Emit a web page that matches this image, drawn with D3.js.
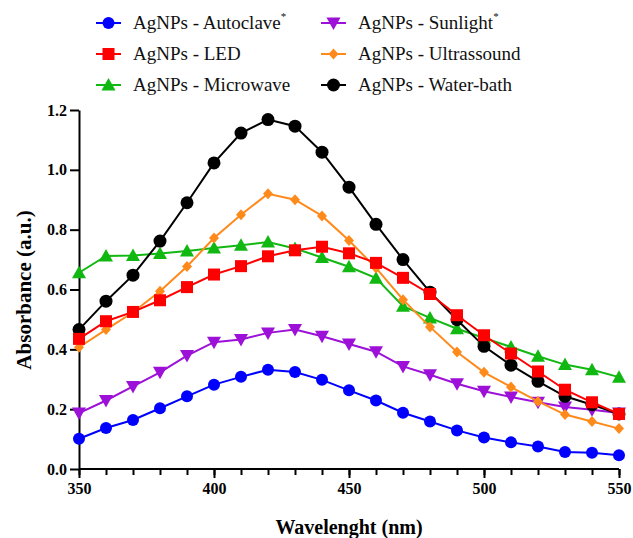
<!DOCTYPE html>
<html>
<head>
<meta charset="utf-8">
<script src="https://cdn.jsdelivr.net/npm/d3@7"></script>
<style>
  body { margin: 0; background: #fff; }
  svg { display: block; }
</style>
</head>
<body>
<div id="chart"></div>
<script>
// Wavelength (nm) and absorbance per synthesis method
var wavelengths = [350, 360, 370, 380, 390, 400, 410, 420, 430, 440, 450,
                   460, 470, 480, 490, 500, 510, 520, 530, 540, 550];

var autoclave = [0.101, 0.137, 0.164, 0.203, 0.243, 0.282, 0.308, 0.332, 0.324, 0.298, 0.263,
                 0.229, 0.188, 0.159, 0.129, 0.105, 0.089, 0.075, 0.057, 0.054, 0.046];
var sunlight = [0.187, 0.229, 0.276, 0.323, 0.379, 0.424, 0.433, 0.455, 0.466, 0.444, 0.418,
                0.392, 0.343, 0.315, 0.285, 0.260, 0.241, 0.223, 0.207, 0.198, 0.187];
var led = [0.435, 0.494, 0.525, 0.564, 0.608, 0.650, 0.678, 0.711, 0.731, 0.743, 0.721,
           0.689, 0.639, 0.585, 0.514, 0.447, 0.386, 0.326, 0.265, 0.223, 0.184];
var ultrassound = [0.407, 0.466, 0.524, 0.594, 0.677, 0.772, 0.850, 0.920, 0.900, 0.846, 0.764,
                   0.672, 0.566, 0.475, 0.391, 0.323, 0.274, 0.226, 0.182, 0.159, 0.135];
var microwave = [0.656, 0.712, 0.714, 0.720, 0.729, 0.739, 0.748, 0.759, 0.737, 0.707, 0.676,
                 0.638, 0.544, 0.505, 0.469, 0.438, 0.408, 0.377, 0.349, 0.332, 0.307];
var waterBath = [0.466, 0.561, 0.648, 0.762, 0.890, 1.023, 1.123, 1.168, 1.146, 1.059, 0.942,
                 0.818, 0.700, 0.591, 0.499, 0.410, 0.347, 0.293, 0.243, 0.215, 0.184];

var yTicks = [0, 0.2, 0.4, 0.6, 0.8, 1.0, 1.2];
var xMajorTicks = [350, 400, 450, 500, 550];

var series = [
  {name: "AgNPs - Autoclave", star: true, values: autoclave, color: "#0000ff", symbol: "circle"},
  {name: "AgNPs - LED", star: false, values: led, color: "#ff0000", symbol: "square"},
  {name: "AgNPs - Microwave", star: false, values: microwave, color: "#12b812", symbol: "triangle"},
  {name: "AgNPs - Sunlight", star: true, values: sunlight, color: "#9c10d8", symbol: "down"},
  {name: "AgNPs - Ultrassound", star: false, values: ultrassound, color: "#ff8a1c", symbol: "diamond"},
  {name: "AgNPs - Water-bath", star: false, values: waterBath, color: "#000000", symbol: "circleBig"}
];

// draw order (last on top)
var drawOrder = [0, 3, 2, 4, 5, 1];

var serif = "Liberation Serif, Tinos, Times New Roman, DejaVu Serif, serif";

var width = 633, height = 538;
var svg = d3.select("#chart").append("svg")
    .attr("width", width)
    .attr("height", height)
    .attr("font-family", serif);

var x = d3.scaleLinear().domain([350, 550]).range([79, 619]);
var y = d3.scaleLinear().domain([0, 1.2]).range([469, 110]);

function marker(sel, s) {
  var c = s.color;
  if (s.symbol === "circle" || s.symbol === "circleBig") {
    sel.append("circle").attr("r", s.symbol === "circle" ? 6 : 6.5).attr("fill", c);
  } else if (s.symbol === "square") {
    sel.append("rect").attr("x", -6).attr("y", -6).attr("width", 12).attr("height", 12).attr("fill", c);
  } else if (s.symbol === "triangle") {
    sel.append("path").attr("d", "M0,-7L7,5.5L-7,5.5Z").attr("fill", c);
  } else if (s.symbol === "down") {
    sel.append("path").attr("d", "M0,7L7,-5.5L-7,-5.5Z").attr("fill", c);
  } else if (s.symbol === "diamond") {
    sel.append("path").attr("d", "M0,-5.5L5,0L0,5.5L-5,0Z").attr("fill", c);
  }
}

// axes
var yAxis = d3.axisLeft(y).tickValues(yTicks).tickFormat(d3.format(".1f"))
    .tickSize(9).tickSizeOuter(0).tickPadding(3);
var gy = svg.append("g").attr("transform", "translate(79,0)").call(yAxis);

var xMinor = svg.append("g").attr("transform", "translate(0,469)")
    .call(d3.axisBottom(x).tickValues(wavelengths).tickFormat("").tickSize(6).tickSizeOuter(0));
var gx = svg.append("g").attr("transform", "translate(0,469)")
    .call(d3.axisBottom(x).tickValues(xMajorTicks).tickFormat(d3.format("d"))
      .tickSize(9).tickSizeOuter(0).tickPadding(5));

[gy, gx, xMinor].forEach(function(g) {
  g.attr("font-family", serif).attr("font-size", 16).attr("font-weight", "bold");
  g.selectAll("path, line").attr("stroke", "#000").attr("stroke-width", 2);
  g.selectAll("text").attr("fill", "#000");
});
gx.select("path.domain").remove();
xMinor.select("path.domain").attr("d", "M79,0H619");

// lines + markers
var line = d3.line()
    .x(function(d, i) { return x(wavelengths[i]); })
    .y(function(d) { return y(d); });

drawOrder.forEach(function(idx) {
  var s = series[idx];
  svg.append("path")
    .datum(s.values)
    .attr("d", line)
    .attr("fill", "none")
    .attr("stroke", s.color)
    .attr("stroke-width", 2);
  svg.append("g").selectAll("g")
    .data(s.values)
    .enter().append("g")
    .attr("transform", function(d, i) { return "translate(" + x(wavelengths[i]) + "," + y(d) + ")"; })
    .each(function() { marker(d3.select(this), s); });
});

// axis titles
svg.append("text")
  .attr("x", 349).attr("y", 534)
  .attr("text-anchor", "middle")
  .attr("font-weight", "bold")
  .attr("font-size", 20)
  .text("Wavelenght (nm)");

svg.append("text")
  .attr("transform", "translate(31,290) rotate(-90)")
  .attr("text-anchor", "middle")
  .attr("font-weight", "bold")
  .attr("font-size", 21)
  .text("Absorbance (a.u.)");

// legend, two columns of three
var legend = svg.append("g");
series.forEach(function(s, i) {
  var col = Math.floor(i / 3), row = i % 3;
  var lx = col === 0 ? 96 : 321;
  var ly = 23 + row * 31;
  var g = legend.append("g").attr("transform", "translate(" + lx + "," + ly + ")");
  g.append("line").attr("x1", 0).attr("x2", 25).attr("y1", 0).attr("y2", 0)
    .attr("stroke", s.color).attr("stroke-width", 2);
  var m = g.append("g").attr("transform", "translate(12.5,0)");
  marker(m, s);
  var t = g.append("text")
    .attr("x", 37).attr("y", 6)
    .attr("font-size", 19)
    .attr("fill", "#111")
    .text(s.name);
  if (s.star) {
    t.append("tspan").attr("dy", -9).attr("font-size", 11).text("*");
  }
});
</script>
</body>
</html>
